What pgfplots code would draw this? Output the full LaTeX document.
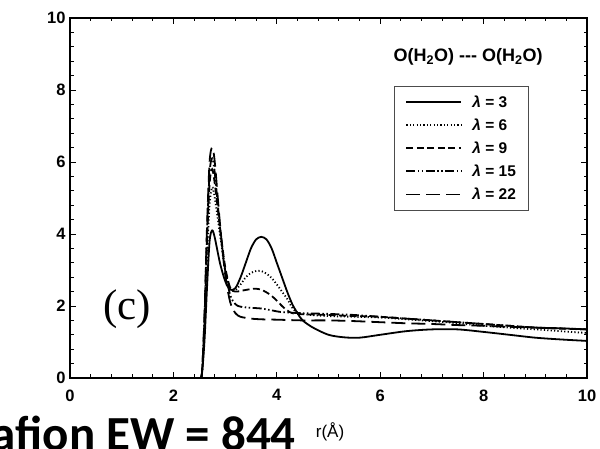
\documentclass[border=0pt]{standalone}
\usepackage{fontspec}
\setmainfont{Liberation Sans}
\newfontfamily\serifc{Liberation Serif}
\newfontfamily\calib{Carlito}
\usepackage{pgfplots}
\pgfplotsset{compat=1.18}
\newcommand{\lam}{{\bfseries\itshape λ}}
\begin{document}
\begin{tikzpicture}
\begin{axis}[
  scale only axis,
  width=517pt, height=360pt,
  xmin=0, xmax=10, ymin=0, ymax=10,
  xtick={0,2,...,10}, ytick={0,2,...,10},
  minor tick num=4,
  tick align=inside,
  major tick length=6pt, minor tick length=3.5pt,
  axis line style={line width=1.3pt},
  every tick/.style={line width=0.9pt, black},
  tick label style={font=\fontsize{16.5}{18}\selectfont\bfseries},
  /pgf/number format/assume math mode=true,
  xticklabel style={yshift=-8pt},
  yticklabel style={xshift=-1pt},
  legend cell align=left,
  legend style={at={(0.627,0.811)}, anchor=north west, draw=black!70, line width=0.8pt,
    font=\fontsize{15.5}{17}\selectfont\bfseries, row sep=6pt,
    inner xsep=11pt, inner ysep=7pt,
    /tikz/every odd column/.append style={column sep=8pt}},
  legend image code/.code={\draw[#1] (0pt,0pt) -- (55pt,0pt);},
  every axis plot/.append style={line width=1.8pt, black, smooth, tension=0.5},
]
\addplot[solid] coordinates {
(2.5,0) (2.55,0.1) (2.6,1.0) (2.65,2.5) (2.7,3.8) (2.75,4.1) (2.8,3.9) (2.9,3.2) (3.0,2.7) (3.1,2.45) (3.2,2.5) (3.3,2.8) (3.4,3.2) (3.5,3.6) (3.6,3.85) (3.7,3.92) (3.8,3.85) (3.9,3.6) (4.0,3.2) (4.1,2.8) (4.2,2.4) (4.3,2.05) (4.4,1.8) (4.5,1.6) (4.7,1.4) (5.0,1.2) (5.3,1.13) (5.6,1.12) (6.0,1.2) (6.5,1.3) (7.0,1.35) (7.5,1.35) (8.0,1.28) (8.5,1.2) (9.0,1.12) (9.5,1.07) (10,1.03)};
\addlegendentry{\lam\ = 3}
\addplot[dash pattern=on 1.2pt off 2.2pt] coordinates {
(2.5,0) (2.55,0.1) (2.6,1.3) (2.65,3.3) (2.7,4.8) (2.75,5.3) (2.8,5.0) (2.9,4.0) (3.0,3.0) (3.1,2.5) (3.2,2.45) (3.3,2.6) (3.4,2.8) (3.5,2.92) (3.6,2.97) (3.7,2.97) (3.8,2.9) (3.9,2.78) (4.0,2.6) (4.1,2.4) (4.2,2.2) (4.3,1.95) (4.4,1.82) (4.6,1.76) (5.0,1.72) (5.5,1.7) (6.0,1.68) (6.5,1.63) (7.0,1.58) (7.5,1.52) (8.0,1.45) (8.5,1.4) (9.0,1.35) (9.5,1.3) (10,1.25)};
\addlegendentry{\lam\ = 6}
\addplot[dash pattern=on 7pt off 3.5pt] coordinates {
(2.5,0) (2.55,0.1) (2.6,1.5) (2.65,3.8) (2.7,5.4) (2.75,5.8) (2.8,5.4) (2.9,4.2) (3.0,3.1) (3.1,2.5) (3.2,2.4) (3.3,2.42) (3.5,2.47) (3.6,2.48) (3.7,2.45) (3.8,2.38) (3.9,2.28) (4.0,2.15) (4.1,2.0) (4.2,1.88) (4.3,1.8) (4.5,1.77) (5.0,1.75) (5.5,1.72) (6.0,1.7) (6.5,1.65) (7.0,1.6) (7.5,1.55) (8.0,1.5) (8.5,1.45) (9.0,1.4) (9.5,1.37) (10,1.35)};
\addlegendentry{\lam\ = 9}
\addplot[dash pattern=on 9pt off 2.5pt on 1.5pt off 2.5pt on 1.5pt off 2.5pt] coordinates {
(2.5,0) (2.55,0.1) (2.6,1.6) (2.65,4.0) (2.7,5.7) (2.75,6.1) (2.8,5.7) (2.9,4.2) (3.0,3.0) (3.1,2.3) (3.2,2.05) (3.3,1.98) (3.5,1.95) (3.7,1.93) (3.9,1.88) (4.1,1.83) (4.5,1.8) (5.0,1.78) (5.5,1.75) (6.0,1.7) (6.5,1.65) (7.0,1.6) (7.5,1.55) (8.0,1.5) (8.5,1.45) (9.0,1.4) (9.5,1.38) (10,1.35)};
\addlegendentry{\lam\ = 15}
\addplot[dash pattern=on 14pt off 6pt] coordinates {
(2.5,0) (2.55,0.1) (2.6,1.7) (2.65,4.2) (2.7,6.0) (2.75,6.4) (2.8,6.0) (2.9,4.3) (3.0,2.9) (3.1,2.1) (3.2,1.8) (3.3,1.7) (3.5,1.65) (3.7,1.63) (4.0,1.62) (4.5,1.6) (5.0,1.6) (5.5,1.58) (6.0,1.55) (6.5,1.52) (7.0,1.5) (7.5,1.47) (8.0,1.45) (8.5,1.42) (9.0,1.4) (9.5,1.38) (10,1.35)};
\addlegendentry{\lam\ = 22}
\node[font=\fontsize{18}{20}\selectfont\bfseries] at (axis cs:7.7,8.92) {O(H\textsubscript{2}O) -{}-{}- O(H\textsubscript{2}O)};
\node[font=\fontsize{43}{45}\selectfont\serifc] at (axis cs:1.1,1.9) {(c)};
\node[rotate=90, font=\fontsize{16}{18}\selectfont\bfseries] at (rel axis cs:0,0.483) [yshift=50pt] {g(r)};
\end{axis}
\node[font=\fontsize{17}{19}\selectfont] at (260pt,-54pt) {r(Å)};
\node[overlay, anchor=base east, inner sep=0pt, font=\fontsize{49}{52}\selectfont\calib\bfseries] at (226pt,-73pt) {Nafion EW = 844};
\pgfresetboundingbox
\useasboundingbox (-70pt,-71pt) rectangle (530pt,378pt);
\end{tikzpicture}
\end{document}
